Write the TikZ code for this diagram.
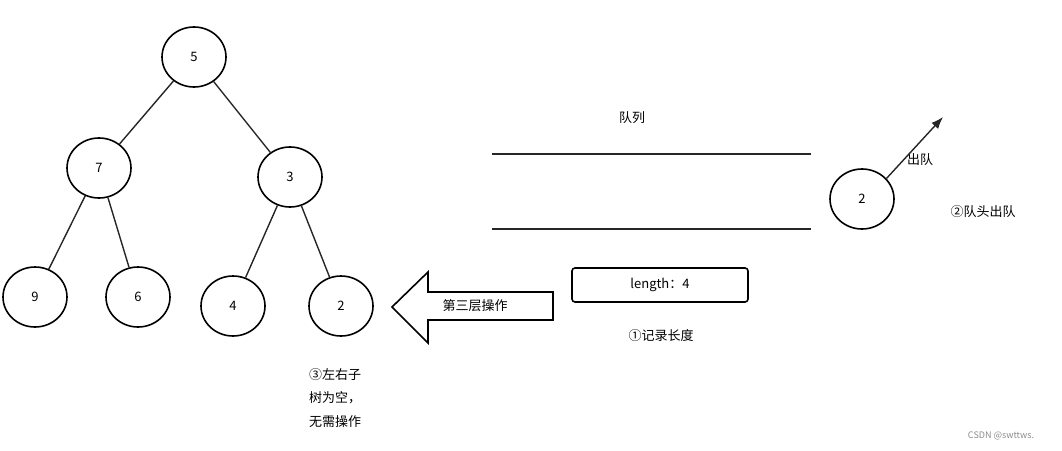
\documentclass[tikz,border=0pt]{standalone}
\usepackage{fontspec}
\setmainfont{Noto Sans CJK SC}
\usetikzlibrary{shapes.geometric,arrows.meta}
\begin{document}
\begin{tikzpicture}[x=1pt,y=-1pt,
  tn/.style={ellipse,draw,line width=1.6pt,minimum width=64pt,minimum height=60pt,inner sep=0pt,font=\fontsize{13}{15}\selectfont},
  lbl/.style={font=\fontsize{13}{15}\selectfont,inner sep=0pt},
  ed/.style={line width=1.4pt,draw=black!85}]
\useasboundingbox (0,0) rectangle (1062,450);
\node[tn] (n5) at (194,57) {5};
\node[tn] (n7) at (99,168) {7};
\node[tn] (n3) at (290,177) {3};
\node[tn] (n9) at (35,297) {9};
\node[tn] (n6) at (138,297) {6};
\node[tn] (n4) at (233,306) {4};
\node[tn] (n2) at (341,306) {2};
\node[tn] (q2) at (862,199) {2};
\draw[ed] (n5)--(n7); \draw[ed] (n5)--(n3);
\draw[ed] (n7)--(n9); \draw[ed] (n7)--(n6);
\draw[ed] (n3)--(n4); \draw[ed] (n3)--(n2);
\coordinate (qa) at (492,154); \coordinate (qb) at (811,154);
\coordinate (qc) at (492,229); \coordinate (qd) at (811,229);
\draw[ed] (qa)--(qb); \draw[ed] (qc)--(qd);
\node[lbl] (ql) at (632,118) {队列};
\coordinate (out) at (943,117);
\draw[ed,-{Latex[length=12pt,width=9pt]}] (q2.40)--(out);
\node[lbl] (ol) at (920,160) {出队};
\node[lbl] (s2) at (983,212) {②队头出队};
\node[draw,line width=1.6pt,rounded corners=3pt,minimum width=176pt,minimum height=34pt,lbl] (len) at (660,285) {length：4};
\node[lbl] (s1) at (661,336) {①记录长度};
\draw[line width=1.6pt] (392,307)--(428,272)--(428,292)--(553,292)--(553,320)--(428,320)--(428,343)--cycle;
\node[lbl] (t3) at (475,306) {第三层操作};
\node[lbl,align=left,anchor=north west,font=\fontsize{13}{23.5}\selectfont] (s3) at (309,368) {③左右子\\树为空，\\无需操作};
\node[lbl,text=black!45,font=\fontsize{9}{11}\selectfont] (wm) at (1001,436) {CSDN @swttws.};
\end{tikzpicture}
\end{document}
